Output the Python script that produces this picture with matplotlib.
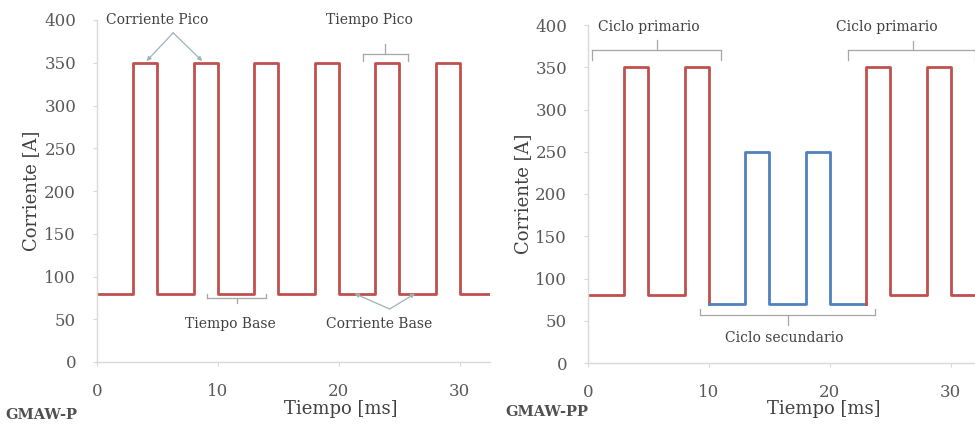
import matplotlib
matplotlib.use("Agg")
import matplotlib.pyplot as plt

plt.rcParams['font.family'] = ['DejaVu Serif']

# ---- data: step waveforms (time [ms], current [A]) ----
p_time = [0, 3, 5, 8, 10, 13, 15, 18, 20, 23, 25, 28, 30, 34]
p_curr = [80, 350, 80, 350, 80, 350, 80, 350, 80, 350, 80, 350, 80, 80]

pp_red1_time = [0, 3, 5, 8, 10]
pp_red1_curr = [80, 350, 80, 350, 70]
pp_blue_time = [10, 13, 15, 18, 20, 23]
pp_blue_curr = [70, 250, 70, 250, 70, 70]
pp_red2_time = [23, 23, 25, 28, 30, 34]
pp_red2_curr = [70, 350, 80, 350, 80, 80]

x_ticks = [0, 10, 20, 30]
y_ticks = [0, 50, 100, 150, 200, 250, 300, 350, 400]

RED = '#c0504d'
BLUE = '#4f81bd'
GRID = '#d9d9d9'
TXT = '#404040'
BRK = '#a6a6a6'
ARR = '#9db3b9'

fig = plt.figure(figsize=(9.75, 4.29), dpi=100)
ax1 = fig.add_axes([97/975, 1-362/429, 393/975, 342/429])
ax2 = fig.add_axes([588/975, 1-363/429, 387/975, 338/429])


def style(ax, xmax):
    ax.set_xlim(0, xmax)
    ax.set_ylim(0, 400)
    ax.set_xticks(x_ticks)
    ax.set_yticks(y_ticks)
    for s in ['top', 'right']:
        ax.spines[s].set_visible(False)
    for s in ['left', 'bottom']:
        ax.spines[s].set_color(GRID)
        ax.spines[s].set_linewidth(1)
    ax.tick_params(colors=GRID, labelcolor='#595959', labelsize=12,
                   length=3, direction='out', pad=12)
    ax.set_ylabel('Corriente [A]', fontsize=13, color='#404040')
    ax.set_xlabel('Tiempo [ms]', fontsize=13, color='#404040')


def bracket(ax, x0, x1, y, end, stem_x, stem_y):
    # horizontal bracket with end hooks and a centre stem
    kw = dict(color=BRK, lw=0.9, clip_on=False)
    ax.plot([x0, x1], [y, y], **kw)
    ax.plot([x0, x0], [y, end], **kw)
    ax.plot([x1, x1], [y, end], **kw)
    ax.plot([stem_x, stem_x], [y, stem_y], **kw)


def arrows(ax, apex, targets):
    for t in targets:
        ax.annotate("", xy=t, xytext=apex,
                    arrowprops=dict(arrowstyle='-|>', color=ARR, lw=0.9,
                                    mutation_scale=6, shrinkA=0, shrinkB=0))


# ---- left: GMAW-P ----
style(ax1, 32.5)
ax1.plot(p_time, p_curr, drawstyle='steps-post', color=RED, lw=2)
ax1.yaxis.set_label_coords(-0.145, 0.5)
ax1.xaxis.set_label_coords(0.62, -0.11)

ax1.text(5.0, 400, 'Corriente Pico', ha='center', va='center', fontsize=10, color=TXT)
arrows(ax1, (6.3, 385), [(4.1, 352), (8.7, 352)])

ax1.text(22.5, 400, 'Tiempo Pico', ha='center', va='center', fontsize=10, color=TXT)
bracket(ax1, 22.0, 25.7, 360, 352, 23.8, 372)

ax1.text(11.0, 45, 'Tiempo Base', ha='center', va='center', fontsize=10, color=TXT)
bracket(ax1, 9.1, 14.0, 75, 80, 11.6, 69)

ax1.text(23.3, 45, 'Corriente Base', ha='center', va='center', fontsize=10, color=TXT)
arrows(ax1, (24.2, 62), [(21.3, 80), (26.3, 80)])

fig.text(5/975, 1-415/429, 'GMAW-P', fontsize=10.5, fontweight='bold',
         color='#505050', ha='left', va='center')

# ---- right: GMAW-PP ----
style(ax2, 32.0)
ax2.plot(pp_red1_time, pp_red1_curr, drawstyle='steps-post', color=RED, lw=2)
ax2.plot(pp_blue_time, pp_blue_curr, drawstyle='steps-post', color=BLUE, lw=2)
ax2.plot(pp_red2_time, pp_red2_curr, drawstyle='steps-post', color=RED, lw=2)
ax2.yaxis.set_label_coords(-0.145, 0.5)
ax2.xaxis.set_label_coords(0.61, -0.11)

ax2.text(5.0, 398, 'Ciclo primario', ha='center', va='center', fontsize=10, color=TXT)
bracket(ax2, 0.3, 11.0, 370, 359, 5.7, 382)

ax2.text(24.7, 398, 'Ciclo primario', ha='center', va='center', fontsize=10, color=TXT)
bracket(ax2, 21.5, 32.0, 370, 359, 26.9, 381)

ax2.text(16.2, 30, 'Ciclo secundario', ha='center', va='center', fontsize=10, color=TXT)
bracket(ax2, 9.3, 23.7, 57, 64, 16.5, 45)

fig.text(505/975, 1-412/429, 'GMAW-PP', fontsize=10.5, fontweight='bold',
         color='#505050', ha='left', va='center')

fig.savefig('out.png', dpi=100)
